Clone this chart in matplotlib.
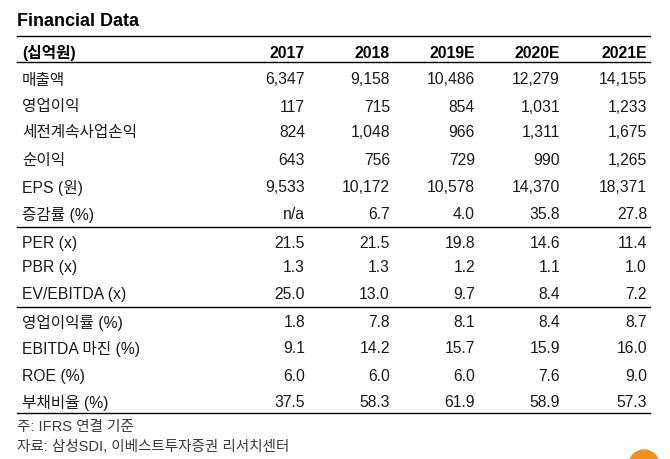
import matplotlib
matplotlib.use("Agg")
import matplotlib.pyplot as plt
from matplotlib.patches import Circle

plt.rcParams['font.family'] = ['Liberation Sans', 'Noto Sans CJK KR', 'DejaVu Sans']

title = "Financial Data"
unit_label = "(십억원)"
years = ["2017", "2018", "2019E", "2020E", "2021E"]

group1_labels = ["매출액", "영업이익", "세전계속사업손익", "순이익", "EPS (원)", "증감률 (%)"]
sales = [6347, 9158, 10486, 12279, 14155]
op_income = [117, 715, 854, 1031, 1233]
pretax = [824, 1048, 966, 1311, 1675]
net_income = [643, 756, 729, 990, 1265]
eps = [9533, 10172, 10578, 14370, 18371]
eps_growth = [None, 6.7, 4.0, 35.8, 27.8]

group2_labels = ["PER (x)", "PBR (x)", "EV/EBITDA (x)"]
per = [21.5, 21.5, 19.8, 14.6, 11.4]
pbr = [1.3, 1.3, 1.2, 1.1, 1.0]
ev_ebitda = [25.0, 13.0, 9.7, 8.4, 7.2]

group3_labels = ["영업이익률 (%)", "EBITDA 마진 (%)", "ROE (%)", "부채비율 (%)"]
op_margin = [1.8, 7.8, 8.1, 8.4, 8.7]
ebitda_margin = [9.1, 14.2, 15.7, 15.9, 16.0]
roe = [6.0, 6.0, 6.0, 7.6, 9.0]
debt_ratio = [37.5, 58.3, 61.9, 58.9, 57.3]

note1 = "주: IFRS 연결 기준"
note2 = "자료: 삼성SDI, 이베스트투자증권 리서치센터"

def fmt_int(v):
    return "n/a" if v is None else f"{v:,}"

def fmt_dec(v):
    return "n/a" if v is None else f"{v:.1f}"

groups = [
    (group1_labels, [sales, op_income, pretax, net_income, eps, eps_growth],
     [fmt_int, fmt_int, fmt_int, fmt_int, fmt_int, fmt_dec]),
    (group2_labels, [per, pbr, ev_ebitda], [fmt_dec] * 3),
    (group3_labels, [op_margin, ebitda_margin, roe, debt_ratio], [fmt_dec] * 4),
]

W, H = 670, 460
fig = plt.figure(figsize=(W / 100, H / 100), dpi=100)
ax = fig.add_axes([0, 0, 1, 1])
ax.set_xlim(0, W)
ax.set_ylim(H, 0)
ax.axis("off")

x_left = 17
x_right = 650
col_right = [305, 390, 475, 560, 647]
fs = 11.3
txt_color = "#1a1a1a"

ax.text(x_left, 21, title, fontsize=13, fontweight="bold", va="center", ha="left",
        color="black")
ax.plot([x_left, x_right], [37, 37], color="black", lw=1.0)
ax.text(x_left + 5, 53, unit_label, fontsize=fs, fontweight="bold", va="center", ha="left", color="black")
for x, y in zip(col_right, years):
    ax.text(x, 53, y, fontsize=fs, fontweight="bold", va="center", ha="right", color="black")
ax.plot([x_left, x_right], [63, 63], color="black", lw=1.0)

row_y = [[80, 107, 133, 161, 188, 215], [244, 268, 295], [323, 349, 377, 403]]
sep_y = [228, 308, 414]

for (labels, series, fmts), ys, sy in zip(groups, row_y, sep_y):
    for lab, vals, f, y in zip(labels, series, fmts, ys):
        ax.text(x_left + 5, y, lab, fontsize=fs, va="center", ha="left", color=txt_color)
        for x, v in zip(col_right, vals):
            ax.text(x, y, f(v), fontsize=fs, va="center", ha="right", color=txt_color)
    ax.plot([x_left, x_right], [sy, sy], color="black", lw=1.0)

ax.text(x_left, 427, note1, fontsize=10.5, va="center", ha="left", color="#3a3a3a")
ax.text(x_left, 447, note2, fontsize=10.5, va="center", ha="left", color="#3a3a3a")

ax.add_patch(Circle((644, 466), 15, color="#f0901e", clip_on=True))

fig.savefig("out.png", dpi=100)
